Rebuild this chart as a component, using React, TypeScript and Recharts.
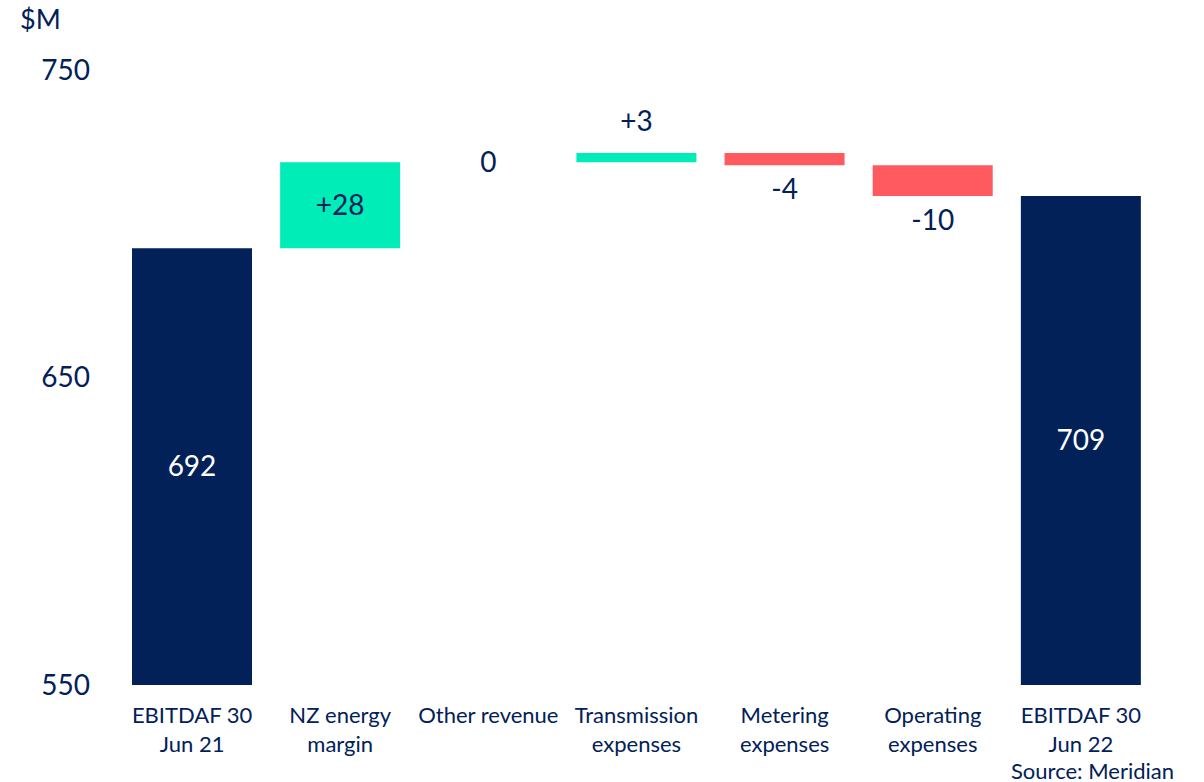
import React from "react";
import { BarChart, Bar, XAxis, YAxis, Cell, LabelList } from "recharts";

const categories = [
  "EBITDAF 30\nJun 21",
  "NZ energy\nmargin",
  "Other revenue",
  "Transmission\nexpenses",
  "Metering\nexpenses",
  "Operating\nexpenses",
  "EBITDAF 30\nJun 22",
];
// start/end of each step, $M
const starts = [550, 692, 720, 720, 723, 719, 550];
const ends = [692, 720, 720, 723, 719, 709, 709];
const labels = ["692", "+28", "0", "+3", "-4", "-10", "709"];
const isTotal = [true, false, false, false, false, false, true];
const yTicks = [550, 650, 750];

const NAVY = "#012158";
const GREEN = "#00EDB8";
const RED = "#FF5A5F";
const FONT = "Lato, 'Open Sans', sans-serif";

const data = categories.map((name, i) => ({
  name,
  range: [Math.min(starts[i], ends[i]), Math.max(starts[i], ends[i])],
  delta: ends[i] - starts[i],
  label: labels[i],
  total: isTotal[i],
}));

const barColor = (d: any) =>
  d.total ? NAVY : d.delta > 0 ? GREEN : d.delta < 0 ? RED : "transparent";

const CategoryTick = (props: any) => {
  const { x, y, payload } = props;
  const lines = String(payload.value).split("\n");
  return (
    <text x={x} y={y} textAnchor="middle" fill={NAVY} fontSize={22} fontFamily={FONT}>
      {lines.map((l, i) => (
        <tspan key={i} x={x} dy={i === 0 ? 30 : 29}>
          {l}
        </tspan>
      ))}
    </text>
  );
};

const StepLabel = (props: any) => {
  const { x, y, width, height, value } = props;
  const d = data.find((e) => e.label === value);
  if (!d) return null;
  const cx = x + width / 2;
  const top = Math.min(y, y + height);
  const h = Math.abs(height);
  let cy: number;
  let fill = NAVY;
  if (d.total) {
    cy = top + h / 2;
    fill = "#ffffff";
  } else if (d.delta === 0) {
    cy = top + h / 2;
  } else if (h > 40) {
    cy = top + h / 2;
  } else if (d.delta > 0) {
    cy = top - 32;
  } else {
    cy = top + h + 24;
  }
  return (
    <text x={cx} y={cy} dy="0.35em" textAnchor="middle" fill={fill} fontSize={28} fontFamily={FONT}>
      {d.label}
    </text>
  );
};

export default function App() {
  return (
    <div style={{ position: "absolute", left: 0, top: 0, width: 1204, height: 782, background: "#fff" }}>
      <div
        style={{ position: "absolute", left: 20, top: 2, fontSize: 27, color: NAVY, fontFamily: FONT }}
      >
        $M
      </div>
      <BarChart
        width={1204}
        height={782}
        data={data}
        margin={{ top: 70, right: 49, left: 0, bottom: 0 }}
        barSize={120}
      >
        <XAxis
          dataKey="name"
          axisLine={false}
          tickLine={false}
          height={97}
          interval={0}
          tick={<CategoryTick />}
        />
        <YAxis
          domain={[550, 750]}
          ticks={yTicks}
          axisLine={false}
          tickLine={false}
          width={118}
          tickMargin={22}
          tick={{ fill: NAVY, fontSize: 28, fontFamily: FONT }}
        />
        <Bar dataKey="range" minPointSize={1} isAnimationActive={false}>
          {data.map((d, i) => (
            <Cell key={i} fill={barColor(d)} />
          ))}
          <LabelList dataKey="label" content={<StepLabel />} />
        </Bar>
      </BarChart>
      <div
        style={{
          position: "absolute",
          left: 1011,
          top: 757,
          fontSize: 22,
          color: NAVY,
          fontFamily: FONT,
          whiteSpace: "nowrap",
        }}
      >
        Source: Meridian
      </div>
    </div>
  );
}
